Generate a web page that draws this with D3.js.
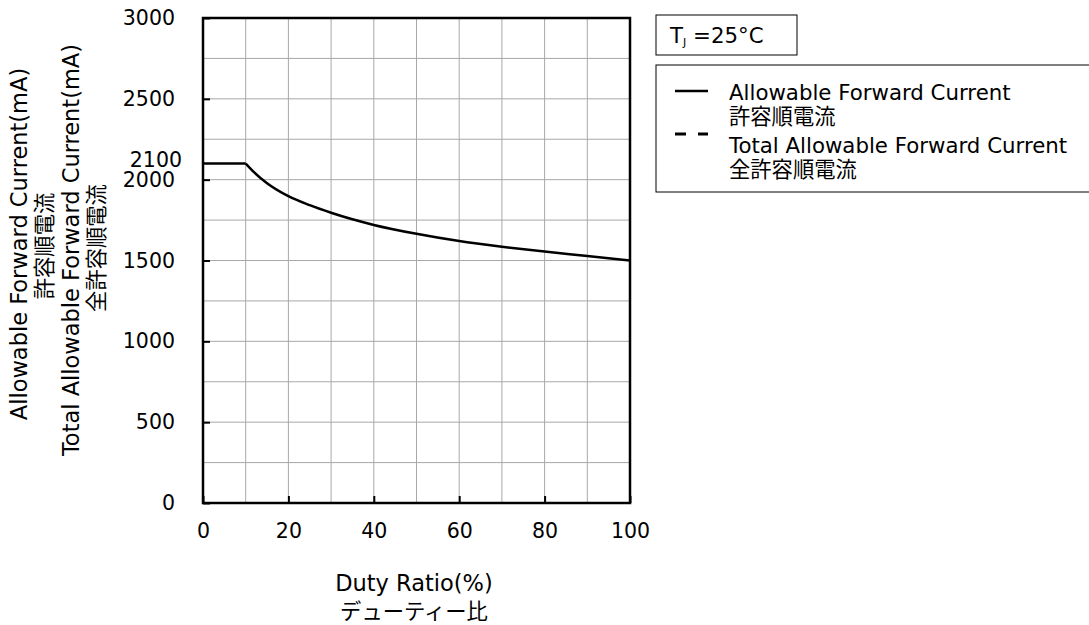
<!DOCTYPE html>
<html>
<head>
<meta charset="utf-8">
<script src="https://cdn.jsdelivr.net/npm/d3@7"></script>
<style>
  body { margin: 0; background: #fff; }
  text { font-family: "DejaVu Sans", "Noto Sans CJK JP", sans-serif; fill: #000; }
</style>
</head>
<body>
<div id="chart"></div>
<script>
// valeurs
const duty = [0, 10, 12, 15, 20, 25, 30, 40, 50, 60, 70, 80, 90, 100];
const current = [2100, 2100, 2045, 1978, 1898, 1842, 1795, 1720, 1665, 1620, 1585, 1555, 1528, 1500];

const xTicks = [0, 20, 40, 60, 80, 100];
const yTicks = [0, 500, 1000, 1500, 2000, 2500, 3000];
const yExtraLabel = [2100];
const xGrid = d3.range(0, 101, 10);
const yGrid = d3.range(0, 3001, 250);

const legendItems = [
  { en: "Allowable Forward Current", jp: "許容順電流", dash: null },
  { en: "Total Allowable Forward Current", jp: "全許容順電流", dash: "11,12" }
];

const W = 1089, H = 625;
const margin = { top: 18, left: 203 };
const width = 630 - 203, height = 503 - 18;
const fsTick = 20.5, fsLeg = 21.3, fsTitle = 22.5;

const svg = d3.select("#chart").append("svg")
  .attr("width", W).attr("height", H);

const g = svg.append("g")
  .attr("transform", "translate(" + margin.left + "," + margin.top + ")");

// échelles
const x = d3.scaleLinear().domain([0, 100]).range([0, width]);
const y = d3.scaleLinear().domain([0, 3000]).range([height, 0]);

// grille
g.append("g").selectAll("line").data(xGrid).join("line")
  .attr("x1", d => x(d)).attr("x2", d => x(d))
  .attr("y1", 0).attr("y2", height)
  .attr("stroke", "#a8a8a8").attr("stroke-width", 1);
g.append("g").selectAll("line").data(yGrid).join("line")
  .attr("x1", 0).attr("x2", width)
  .attr("y1", d => y(d)).attr("y2", d => y(d))
  .attr("stroke", "#a8a8a8").attr("stroke-width", 1);

// axes
const axeY = d3.axisLeft(y).tickValues(yTicks).tickFormat(d3.format("d"))
  .tickSizeInner(-7).tickSizeOuter(0).tickPadding(28);
const axeX = d3.axisBottom(x).tickValues(xTicks).tickFormat(d3.format("d"))
  .tickSizeInner(-7).tickSizeOuter(0).tickPadding(20);

const gy = g.append("g").call(axeY);
gy.select(".domain").remove();
gy.selectAll("line").attr("stroke", "#000").attr("stroke-width", 2);
gy.selectAll("text").attr("font-size", fsTick).attr("font-family", null);

const gx = g.append("g").attr("transform", "translate(0," + height + ")").call(axeX);
gx.select(".domain").remove();
gx.selectAll("line").attr("stroke", "#000").attr("stroke-width", 2);
gx.selectAll("text").attr("font-size", fsTick).attr("font-family", null);

// étiquette 2100
g.append("g").selectAll("text").data(yExtraLabel).join("text")
  .attr("x", -21).attr("y", d => y(d) - 3)
  .attr("text-anchor", "end").attr("dy", "0.32em")
  .attr("font-size", fsTick).text(d => d);

// courbe
const pts = duty.map((d, i) => ({ x: d, y: current[i] }));
const flat = pts.filter(p => p.x <= 10);
const drop = pts.filter(p => p.x >= 10);
g.append("path").datum(flat)
  .attr("fill", "none").attr("stroke", "#000").attr("stroke-width", 2.5)
  .attr("d", d3.line().x(p => x(p.x)).y(p => y(p.y)));
g.append("path").datum(drop)
  .attr("fill", "none").attr("stroke", "#000").attr("stroke-width", 2.5)
  .attr("d", d3.line().curve(d3.curveMonotoneX).x(p => x(p.x)).y(p => y(p.y)));

// cadre
g.append("rect").attr("width", width).attr("height", height)
  .attr("fill", "none").attr("stroke", "#000").attr("stroke-width", 2.5);

// titres des axes
svg.append("text").attr("x", 414).attr("y", 591).attr("text-anchor", "middle")
  .attr("font-size", fsTitle).text("Duty Ratio(%)");
svg.append("text").attr("x", 414).attr("y", 619).attr("text-anchor", "middle")
  .attr("font-size", fsLeg).text("デューティー比");

const yTitles = [
  { t: "Allowable Forward Current(mA)", x: 27, c: 244 },
  { t: "許容順電流", x: 52, c: 246 },
  { t: "Total Allowable Forward Current(mA)", x: 79, c: 250 },
  { t: "全許容順電流", x: 104, c: 248 }
];
svg.append("g").selectAll("text").data(yTitles).join("text")
  .attr("transform", d => "translate(" + d.x + "," + d.c + ") rotate(-90)")
  .attr("text-anchor", "middle").attr("font-size", (d, i) => i % 2 ? fsLeg : fsTitle)
  .text(d => d.t);

// boîte Tj
svg.append("rect").attr("x", 656).attr("y", 15).attr("width", 141).attr("height", 40)
  .attr("fill", "#fff").attr("stroke", "#000").attr("stroke-width", 1);
const tj = svg.append("text").attr("x", 670).attr("y", 43).attr("font-size", fsLeg);
tj.append("tspan").text("T");
tj.append("tspan").attr("font-size", 11).attr("dy", 3).text("J");
tj.append("tspan").attr("dy", -3).text(" =25°C");

// légende
svg.append("rect").attr("x", 656).attr("y", 65).attr("width", 460).attr("height", 127)
  .attr("fill", "#fff").attr("stroke", "#000").attr("stroke-width", 1);
const leg = svg.append("g").selectAll("g").data(legendItems).join("g")
  .attr("transform", (d, i) => "translate(0," + (i * 53) + ")");
leg.append("line").attr("x1", 675).attr("x2", 708)
  .attr("y1", (d, i) => i ? 81 : 91).attr("y2", (d, i) => i ? 81 : 91)
  .attr("stroke", "#000").attr("stroke-width", (d, i) => i ? 3 : 2.5)
  .attr("stroke-dasharray", d => d.dash);
leg.append("text").attr("x", 729).attr("y", 100).attr("font-size", fsLeg).text(d => d.en);
leg.append("text").attr("x", 729).attr("y", 124).attr("font-size", fsLeg).text(d => d.jp);
</script>
</body>
</html>
